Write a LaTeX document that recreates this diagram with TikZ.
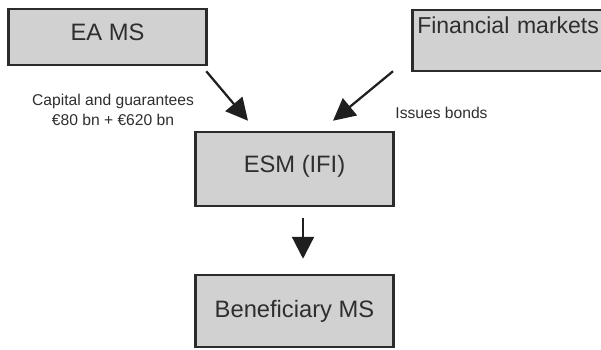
\documentclass[tikz,border=0pt]{standalone}
\usepackage{fontspec}
\setmainfont{Liberation Sans}
\usetikzlibrary{arrows.meta,positioning,calc}
\definecolor{boxfill}{HTML}{D1D1D1}
\definecolor{boxline}{HTML}{2B2B2B}
\definecolor{inktext}{HTML}{2E2E2E}
\begin{document}
\begin{tikzpicture}[text=inktext,
box/.style={draw=boxline,fill=boxfill,line width=.05cm,minimum width=3.96cm,align=center,
 font=\fontsize{13.5}{16}\selectfont,text height=.34cm,text depth=.2cm},
lbl/.style={align=center,font=\fontsize{8.9}{11.4}\selectfont},
arrow/.style={-{Triangle[length=.44cm,width=.44cm]},line width=.045cm,draw=black!88}]
\clip (0,0) rectangle (12.02,6.98);
\node[box,minimum height=1.12cm] (eams) at (2.15,6.24) {EA MS};
\node[box,minimum height=1.22cm,text width=3.9cm,align=left,inner xsep=.1cm,inner ysep=.14cm,
 text depth=.6cm,anchor=west,font=\fontsize{13.1}{16}\selectfont] (fin) at (8.22,6.17) {Financial markets};
\node[box,minimum height=1.48cm] (esm) at (5.89,3.60) {ESM (IFI)};
\node[box,minimum height=1.44cm,text depth=.1cm] (ben) at (5.89,.76) {Beneficiary MS};
\node[lbl] (capital) at (2.26,4.78) {Capital and guarantees\\€80 bn + €620 bn};
\node[lbl] (bonds) at (8.83,4.73) {Issues bonds};
\draw[arrow] ([shift={(-.03,-.1)}]eams.south east)--([shift={(-.93,.2)}]esm.north);
\draw[arrow] ([shift={(-.36,.02)}]fin.south west)--([shift={(.77,.2)}]esm.north);
\draw[arrow] ([shift={(.17,-.22)}]esm.south)--([shift={(.17,.3)}]ben.north);
\end{tikzpicture}
\end{document}
